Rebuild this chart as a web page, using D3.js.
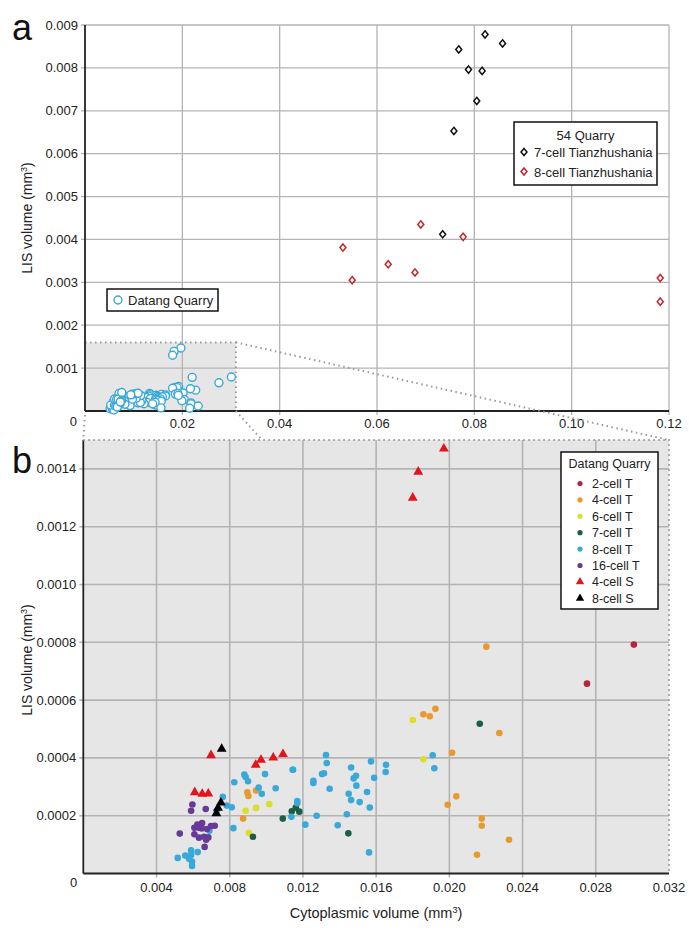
<!DOCTYPE html>
<html>
<head>
<meta charset="utf-8">
<script src="https://cdn.jsdelivr.net/npm/d3@7"></script>
<style>
  body { margin: 0; background: #fff; }
  svg { font-family: "Liberation Sans", Arial, Helvetica, sans-serif; }
</style>
</head>
<body>
<svg id="chart" width="700" height="935"></svg>
<script>
// ---- data: 54 Quarry (panel a) [cytoplasmic volume, LIS volume] in mm3
var tianzhu7 = [[0.0768,0.00843],[0.0822,0.00878],[0.0858,0.00857],[0.0788,0.00796],
  [0.0816,0.00793],[0.0805,0.00723],[0.0758,0.00653],[0.0735,0.00412]];
var tianzhu8 = [[0.0690,0.00435],[0.0777,0.00406],[0.0530,0.00381],[0.0549,0.00305],
  [0.0623,0.00342],[0.0678,0.00323],[0.1182,0.00310],[0.1182,0.00255]];

// ---- data: Datang Quarry (panel b, also open circles in panel a)
var cell2T = [[0.03008,0.000792],[0.02752,0.000657]];
var cell4T = [[0.02202,0.000785],[0.01924,0.000570],[0.01858,0.000551],[0.01893,0.000544],
  [0.02273,0.000486],[0.02015,0.000418],[0.02038,0.000267],[0.01991,0.000238],
  [0.02177,0.000190],[0.02177,0.000165],[0.02326,0.000117],[0.02151,0.000065],
  [0.00896,0.000281],[0.00902,0.000268],[0.00944,0.000287],[0.00873,0.000190]];
var cell6T = [[0.0180,0.000531],[0.01858,0.000395],[0.01016,0.000240],[0.00944,0.000227],
  [0.00887,0.000217],[0.00904,0.000141]];
var cell7T = [[0.02166,0.000518],[0.01448,0.000139],[0.01161,0.000228],[0.01139,0.000215],
  [0.0118,0.000214],[0.00927,0.000127],[0.0109,0.000190]];
var cell8T = [[0.01909,0.000409],[0.01918,0.000364],[0.01326,0.000410],[0.0133,0.000382],
  [0.01146,0.000359],[0.01572,0.000388],[0.01654,0.000376],[0.01652,0.000351],
  [0.01463,0.000367],[0.01304,0.000344],[0.01315,0.000347],[0.0149,0.000338],
  [0.01477,0.000329],[0.01257,0.000321],[0.01257,0.000313],[0.01589,0.000331],
  [0.01492,0.000304],[0.01346,0.000293],[0.0145,0.000276],[0.0155,0.000282],
  [0.01463,0.000254],[0.0151,0.000247],[0.01565,0.000228],[0.0144,0.000205],
  [0.01275,0.000200],[0.01213,0.000169],[0.0139,0.000167],[0.01561,0.000073],
  [0.01169,0.000251],[0.01169,0.000243],[0.01137,0.000196],
  [0.0088,0.000342],[0.00887,0.000334],[0.00993,0.000344],[0.00825,0.000316],
  [0.009,0.000319],[0.01144,0.000359],[0.01051,0.000295],[0.00958,0.000297],
  [0.00975,0.000276],[0.00762,0.000265],[0.00784,0.000235],[0.00811,0.000229],
  [0.00729,0.000217],[0.0082,0.000157],[0.00689,0.000148],
  [0.00589,0.000080],[0.00625,0.000074],[0.00516,0.000054],[0.00557,0.000062],
  [0.00589,0.000064],[0.00578,0.000051],[0.00594,0.000041],[0.00594,0.000026]];
var cell16T = [[0.00596,0.000239],[0.00589,0.000217],[0.00669,0.000223],[0.00649,0.000175],
  [0.00623,0.000169],[0.00607,0.000158],[0.00632,0.000158],[0.00647,0.000156],
  [0.00676,0.000154],[0.00698,0.000164],[0.00718,0.000165],[0.00527,0.000138],
  [0.00607,0.000136],[0.00632,0.000124],[0.0066,0.000127],[0.00683,0.000125],
  [0.00671,0.000117],[0.00663,0.000092]];
var cell4S = [[0.0197,0.00147],[0.0183,0.00139],[0.0180,0.00130],[0.00698,0.000409],
  [0.00971,0.000393],[0.01038,0.000401],[0.01091,0.000413],[0.00942,0.000376],
  [0.00609,0.000281],[0.0065,0.000275],[0.00683,0.000276]];
var cell8S = [[0.00756,0.000431],[0.00752,0.000245],[0.00736,0.000227],[0.00727,0.000208]];

var seriesB = [
  {name: "2-cell T", data: cell2T, color: "#b3263b", shape: "circle"},
  {name: "4-cell T", data: cell4T, color: "#e89a2f", shape: "circle"},
  {name: "6-cell T", data: cell6T, color: "#d8e02a", shape: "circle"},
  {name: "7-cell T", data: cell7T, color: "#1b5e45", shape: "circle"},
  {name: "8-cell T", data: cell8T, color: "#3aa8d8", shape: "circle"},
  {name: "16-cell T", data: cell16T, color: "#663a96", shape: "circle"},
  {name: "4-cell S", data: cell4S, color: "#e3141b", shape: "triangle"},
  {name: "8-cell S", data: cell8S, color: "#000000", shape: "triangle"}
];

var xTicksA = [0.02, 0.04, 0.06, 0.08, 0.10, 0.12];
var yTicksA = [0.001, 0.002, 0.003, 0.004, 0.005, 0.006, 0.007, 0.008, 0.009];
var xTicksB = [0.004, 0.008, 0.012, 0.016, 0.020, 0.024, 0.028, 0.032];
var yTicksB = [0.0002, 0.0004, 0.0006, 0.0008, 0.0010, 0.0012, 0.0014];

var svg = d3.select('#chart');
var grid = '#b4b4b4';
var diamond = "M0,-3.6L3,0L0,3.6L-3,0Z";

// ================= panel a =================
var xa = d3.scaleLinear().domain([0, 0.12]).range([85, 669]);
var ya = d3.scaleLinear().domain([0, 0.009]).range([411, 25]);
var ga = svg.append('g');

// zoom region (gray)
ga.append('rect').attr('x', xa(0)).attr('y', ya(0.0016))
  .attr('width', xa(0.031) - xa(0)).attr('height', ya(0) - ya(0.0016))
  .attr('fill', '#e6e6e6');

ga.append('g').selectAll('line').data(xTicksA).join('line')
  .attr('x1', d => xa(d)).attr('x2', d => xa(d))
  .attr('y1', ya(0.009)).attr('y2', ya(0) + 4)
  .attr('stroke', grid).attr('stroke-width', 1.3);
ga.append('g').selectAll('line').data(yTicksA).join('line')
  .attr('x1', xa(0) - 4).attr('x2', xa(0.12))
  .attr('y1', d => ya(d)).attr('y2', d => ya(d))
  .attr('stroke', grid).attr('stroke-width', 1.3);

// dotted border of zoom region
ga.append('path')
  .attr('d', 'M' + xa(0) + ',' + ya(0.0016) + 'H' + xa(0.031) + 'V' + ya(0))
  .attr('fill', 'none').attr('stroke', '#999').attr('stroke-width', 2)
  .attr('stroke-dasharray', '1.5,3.5');

// axes
ga.append('line').attr('x1', xa(0)).attr('x2', xa(0)).attr('y1', ya(0.009)).attr('y2', ya(0))
  .attr('stroke', '#222').attr('stroke-width', 1.8);
ga.append('line').attr('x1', xa(0)).attr('x2', xa(0.12)).attr('y1', ya(0)).attr('y2', ya(0))
  .attr('stroke', '#222').attr('stroke-width', 1.8);

ga.append('g').selectAll('text').data(xTicksA).join('text')
  .attr('x', d => xa(d)).attr('y', ya(0) + 17).attr('text-anchor', 'middle')
  .attr('font-size', 13).attr('fill', '#222').text(d => d3.format('.2f')(d));
ga.append('g').selectAll('text').data(yTicksA).join('text')
  .attr('x', xa(0) - 7).attr('y', d => ya(d) + 4.5).attr('text-anchor', 'end')
  .attr('font-size', 13).attr('fill', '#222').text(d => d3.format('.3f')(d));
ga.append('text').attr('x', xa(0) - 8).attr('y', ya(0) + 15).attr('text-anchor', 'end')
  .attr('font-size', 13).attr('fill', '#222').text('0');

// Datang points as open circles
var datangAll = [].concat(cell2T, cell4T, cell6T, cell7T, cell8T, cell16T, cell4S, cell8S);
ga.append('g').selectAll('circle').data(datangAll).join('circle')
  .attr('cx', d => xa(d[0])).attr('cy', d => ya(d[1])).attr('r', 4)
  .attr('fill', '#fff').attr('stroke', '#3aa8d8').attr('stroke-width', 1.4);

// 54 Quarry diamonds
ga.append('g').selectAll('path').data(tianzhu7).join('path')
  .attr('transform', d => 'translate(' + xa(d[0]) + ',' + ya(d[1]) + ')')
  .attr('d', diamond).attr('fill', '#fff').attr('stroke', '#111').attr('stroke-width', 1.5);
ga.append('g').selectAll('path').data(tianzhu8).join('path')
  .attr('transform', d => 'translate(' + xa(d[0]) + ',' + ya(d[1]) + ')')
  .attr('d', diamond).attr('fill', '#fff').attr('stroke', '#c4242b').attr('stroke-width', 1.5);

// legend 54 Quarry
var la = ga.append('g').attr('transform', 'translate(514,122)');
la.append('rect').attr('width', 143).attr('height', 63).attr('fill', '#fff')
  .attr('stroke', '#111').attr('stroke-width', 1.5);
la.append('text').attr('x', 71.5).attr('y', 18).attr('text-anchor', 'middle')
  .attr('font-size', 13).attr('fill', '#222').text('54 Quarry');
[['7-cell Tianzhushania', '#111'], ['8-cell Tianzhushania', '#c4242b']].forEach(function(e, i) {
  la.append('path').attr('transform', 'translate(10,' + (30 + i * 19.5) + ')')
    .attr('d', diamond).attr('fill', '#fff').attr('stroke', e[1]).attr('stroke-width', 1.5);
  la.append('text').attr('x', 20).attr('y', 35 + i * 19.5).attr('font-size', 13)
    .attr('fill', '#222').text(e[0]);
});

// legend Datang Quarry (panel a)
var ld = ga.append('g').attr('transform', 'translate(107,289)');
ld.append('rect').attr('width', 111).attr('height', 22).attr('fill', '#fff')
  .attr('stroke', '#111').attr('stroke-width', 1.5);
ld.append('circle').attr('cx', 11).attr('cy', 11).attr('r', 4)
  .attr('fill', '#fff').attr('stroke', '#3aa8d8').attr('stroke-width', 1.4);
ld.append('text').attr('x', 21).attr('y', 15.5).attr('font-size', 13).attr('fill', '#222')
  .text('Datang Quarry');

// ================= panel b =================
var xb = d3.scaleLinear().domain([0, 0.032]).range([83.3, 669]);
var yb = d3.scaleLinear().domain([0, 0.0015]).range([873.5, 440]);
var gb = svg.append('g');

gb.append('rect').attr('x', xb(0)).attr('y', yb(0.0015))
  .attr('width', xb(0.032) - xb(0)).attr('height', yb(0) - yb(0.0015))
  .attr('fill', '#e6e6e6');

gb.append('g').selectAll('line').data(xTicksB.slice(0, -1)).join('line')
  .attr('x1', d => xb(d)).attr('x2', d => xb(d))
  .attr('y1', yb(0.0015)).attr('y2', yb(0) + 4)
  .attr('stroke', grid).attr('stroke-width', 1.6);
gb.append('g').selectAll('line').data(yTicksB).join('line')
  .attr('x1', xb(0) - 4).attr('x2', xb(0.032))
  .attr('y1', d => yb(d)).attr('y2', d => yb(d))
  .attr('stroke', grid).attr('stroke-width', 1.6);

// dotted frame of zoomed region + connector lines
var dots = svg.append('g').attr('fill', 'none').attr('stroke', '#999')
  .attr('stroke-width', 2).attr('stroke-dasharray', '1.5,3.5');
dots.append('path').attr('d', 'M' + xb(0) + ',' + yb(0.0015) + 'H' + xb(0.032) + 'V' + yb(0));
dots.append('path').attr('d', 'M' + xa(0.031) + ',' + ya(0.0016) + 'L' + xb(0.032) + ',' + yb(0.0015));
dots.append('path').attr('d', 'M' + xa(0.031) + ',' + ya(0) + 'L' + 262 + ',' + yb(0.0015));
dots.append('path').attr('d', 'M' + xa(0) + ',' + (ya(0) + 4) + 'L' + xb(0) + ',' + yb(0.0015));

gb.append('line').attr('x1', xb(0)).attr('x2', xb(0)).attr('y1', yb(0.0015)).attr('y2', yb(0))
  .attr('stroke', '#222').attr('stroke-width', 1.8);
gb.append('line').attr('x1', xb(0)).attr('x2', xb(0.032)).attr('y1', yb(0)).attr('y2', yb(0))
  .attr('stroke', '#222').attr('stroke-width', 1.8);

gb.append('g').selectAll('text').data(xTicksB).join('text')
  .attr('x', d => xb(d)).attr('y', yb(0) + 18).attr('text-anchor', 'middle')
  .attr('font-size', 13).attr('fill', '#222').text(d => d3.format('.3f')(d));
gb.append('g').selectAll('text').data(yTicksB).join('text')
  .attr('x', xb(0) - 7).attr('y', d => yb(d) + 4.5).attr('text-anchor', 'end')
  .attr('font-size', 13).attr('fill', '#222').text(d => d3.format('.4f')(d));
gb.append('text').attr('x', xb(0) - 6).attr('y', yb(0) + 13).attr('text-anchor', 'end')
  .attr('font-size', 13).attr('fill', '#222').text('0');

var tri = d3.symbol().type(d3.symbolTriangle).size(42);
seriesB.forEach(function(s) {
  var g = gb.append('g');
  if (s.shape === 'circle') {
    g.selectAll('circle').data(s.data).join('circle')
      .attr('cx', d => xb(d[0])).attr('cy', d => yb(d[1])).attr('r', 3.3)
      .attr('fill', s.color);
  } else {
    g.selectAll('path').data(s.data).join('path')
      .attr('transform', d => 'translate(' + xb(d[0]) + ',' + yb(d[1]) + ')')
      .attr('d', tri).attr('fill', s.color);
  }
});

// legend Datang Quarry (panel b)
var lb = gb.append('g').attr('transform', 'translate(561,452)');
lb.append('rect').attr('width', 97).attr('height', 157).attr('fill', '#fff')
  .attr('stroke', '#111').attr('stroke-width', 1.5);
lb.append('text').attr('x', 48.5).attr('y', 16).attr('text-anchor', 'middle')
  .attr('font-size', 12.5).attr('fill', '#222').text('Datang Quarry');
seriesB.forEach(function(s, i) {
  var cy = 31.5 + i * 16.4;
  if (s.shape === 'circle') {
    lb.append('circle').attr('cx', 19).attr('cy', cy).attr('r', 2.6).attr('fill', s.color);
  } else {
    lb.append('path').attr('transform', 'translate(19,' + cy + ')')
      .attr('d', d3.symbol().type(d3.symbolTriangle).size(30)).attr('fill', s.color);
  }
  lb.append('text').attr('x', 31).attr('y', cy + 4.5).attr('font-size', 12.5)
    .attr('fill', '#222').text(s.name);
});

// ================= titles =================
function volLabel(sel, txt) {
  sel.append('tspan').text(txt + ' (mm');
  sel.append('tspan').attr('dy', -5).attr('font-size', 9).text('3');
  sel.append('tspan').attr('dy', 5).text(')');
}
volLabel(svg.append('text').attr('transform', 'translate(32,218) rotate(-90)')
  .attr('text-anchor', 'middle').attr('font-size', 14).attr('fill', '#222'), 'LIS volume');
volLabel(svg.append('text').attr('transform', 'translate(32,660) rotate(-90)')
  .attr('text-anchor', 'middle').attr('font-size', 14).attr('fill', '#222'), 'LIS volume');
volLabel(svg.append('text').attr('x', 376).attr('y', 918)
  .attr('text-anchor', 'middle').attr('font-size', 14.5).attr('fill', '#222'), 'Cytoplasmic volume');

svg.append('text').attr('x', 12).attr('y', 40).attr('font-size', 36).attr('fill', '#111').text('a');
svg.append('text').attr('x', 12).attr('y', 473).attr('font-size', 36).attr('fill', '#111').text('b');
</script>
</body>
</html>
